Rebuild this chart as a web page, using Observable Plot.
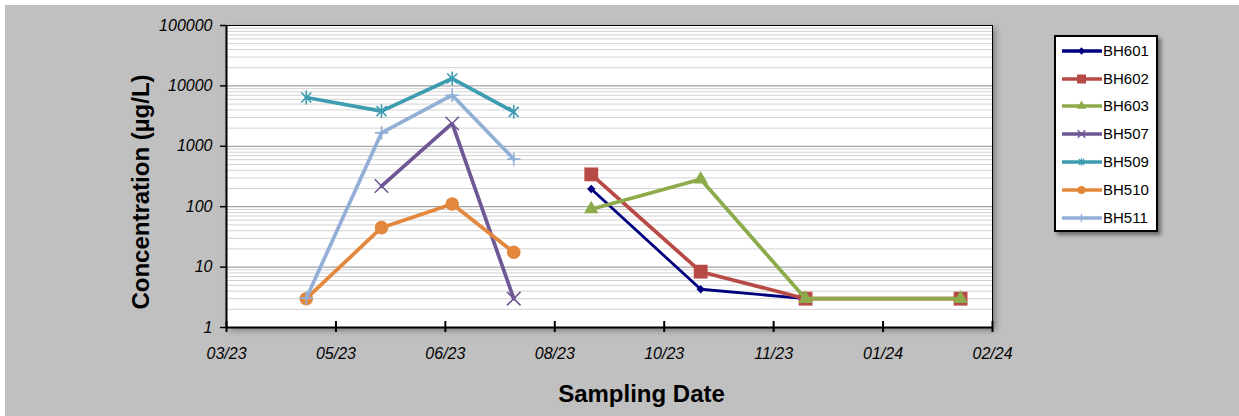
<!DOCTYPE html>
<html><head><meta charset="utf-8">
<script src="https://cdn.jsdelivr.net/npm/d3@7"></script>
<script src="https://cdn.jsdelivr.net/npm/@observablehq/plot@0.6"></script>
<style>
html,body{margin:0;padding:0;background:#fff;overflow:hidden;width:1239px;height:416px;}
#wrap{position:absolute;left:5px;top:5px;width:1234px;height:411px;background:#c0c0c0;font-family:"Liberation Sans",Arial,sans-serif;}
#chart{position:absolute;left:0;top:0;}
#legend{position:absolute;left:1049px;top:30px;width:100px;height:193px;background:#fff;border:2px solid #000;box-shadow:3px 3px 4px rgba(0,0,0,0.45);}
.row{position:absolute;left:0;width:100px;height:20px;}
.row svg{position:absolute;left:6px;top:0;}
.row span{position:absolute;left:47px;top:1px;font-size:15px;line-height:18px;color:#000;}
</style></head><body>
<div id="wrap"><div id="chart"></div><div id="legend"></div></div>
<script>
// ---- data ----
const seriesNames = ["BH601", "BH602", "BH603", "BH507", "BH509", "BH510", "BH511"];
const datesEarly = ["2023-04-29", "2023-06-01", "2023-07-02", "2023-07-29"];
const datesLate  = ["2023-09-01", "2023-10-19", "2023-12-04", "2024-02-10"];
const BH601 = [196, 4.3, 3, null];
const BH602 = [343, 8.4, 3, 3];
const BH603 = [91, 284, 3, 3];
const BH507 = [null, 220, 2390, 3];
const BH509 = [6430, 3820, 13250, 3720];
const BH510 = [3, 45, 111, 17.6];
const BH511 = [3.06, 1670, 7020, 614];
const yTicks = [1, 10, 100, 1000, 10000, 100000];
const xTickDates = ["2023-03-25", "2023-05-12", "2023-06-29", "2023-08-16", "2023-10-03", "2023-11-20", "2024-01-07", "2024-02-24"];
const xTickLabels = ["03/23", "05/23", "06/23", "08/23", "10/23", "11/23", "01/24", "02/24"];
const yTitle = "Concentration (µg/L)";
const xTitle = "Sampling Date";

// Excel-like "star" marker: vertical bar plus an X
const symbolStar = {
  draw(context, size) {
    const r = Math.sqrt(size) * 0.56;
    const q = r * 0.72;
    context.moveTo(0, -r); context.lineTo(0, r);
    context.moveTo(-q, -q); context.lineTo(q, q);
    context.moveTo(-q, q); context.lineTo(q, -q);
  }
};

// ---- styles ----
const styles = {
  BH601: {color: "#00007f", w: 2.8, symbol: "diamond2", r: 3.8, filled: true,  d3s: d3.symbolDiamond2, ls: 34},
  BH602: {color: "#b84a46", w: 3.7, symbol: "square",   r: 7.8, filled: true,  d3s: d3.symbolSquare, ls: 81},
  BH603: {color: "#8dab4b", w: 3.7, symbol: "triangle", r: 5.4, filled: true,  d3s: d3.symbolTriangle, ls: 40},
  BH507: {color: "#6f5795", w: 3.7, symbol: "times",    r: 6.2, filled: false, d3s: d3.symbolTimes, ls: 40},
  BH509: {color: "#3e9cb1", w: 3.7, symbol: symbolStar, r: 7.0, filled: false, d3s: symbolStar, ls: 45},
  BH510: {color: "#e3873c", w: 3.7, symbol: "circle",   r: 6.8, filled: true,  d3s: d3.symbolCircle, ls: 52},
  BH511: {color: "#93afd7", w: 3.7, symbol: "plus",     r: 4.4, filled: false, d3s: d3.symbolPlus, ls: 22}
};

const parse = d3.utcParse("%Y-%m-%d");
const valuesBySeries = {BH601, BH602, BH603, BH507, BH509, BH510, BH511};
const datesBySeries = {BH601: datesLate, BH602: datesLate, BH603: datesLate, BH507: datesEarly, BH509: datesEarly, BH510: datesEarly, BH511: datesEarly};
const rows = {};
for (const s of seriesNames) {
  rows[s] = valuesBySeries[s].map((v, i) => ({series: s, date: parse(datesBySeries[s][i]), value: v})).filter(d => d.value != null);
}

const minorTicks = [];
for (const dec of [1, 10, 100, 1000, 10000]) for (let k = 2; k <= 9; k++) minorTicks.push(dec * k);
const majorGrid = yTicks.slice(1, -1);
const xTicks = xTickDates.map(parse);
const xDomain = [xTicks[0], xTicks[xTicks.length - 1]];

const font = '"Liberation Sans", Arial, sans-serif';
const marks = [
  Plot.frame({fill: "white", stroke: "none"}),
  Plot.ruleY(minorTicks, {stroke: "#d2d2d2", strokeWidth: 1}),
  Plot.ruleY(majorGrid, {stroke: "#8e8e8e", strokeWidth: 1}),
  Plot.frame({stroke: "black", strokeWidth: 1})
];
for (const s of seriesNames) {
  const st = styles[s];
  marks.push(Plot.line(rows[s], {x: "date", y: "value", stroke: st.color, strokeWidth: st.w, strokeLinejoin: "miter"}));
  marks.push(Plot.dot(rows[s], {
    x: "date", y: "value", symbol: st.symbol, r: st.r,
    fill: st.filled ? st.color : "none",
    stroke: st.filled ? "none" : st.color,
    strokeWidth: st.filled ? 0 : 1.6
  }));
}
marks.push(
  Plot.ruleY([1], {stroke: "black", strokeWidth: 2}),
  Plot.ruleX([xDomain[0]], {stroke: "black", strokeWidth: 2}),
  Plot.axisY({ticks: yTicks, tickFormat: d => String(d), tickSize: 6, tickPadding: 8, fontSize: 16, fontStyle: "italic", fontFamily: font, fill: "black", stroke: "black", strokeWidth: 1.5, label: null}),
  Plot.axisX({ticks: xTicks, tickFormat: d => xTickLabels[xTicks.findIndex(t => +t === +d)], tickSize: 5, tickPadding: 15, fontSize: 16, fontStyle: "italic", fontFamily: font, fill: "black", stroke: "black", strokeWidth: 2, label: null}),
  Plot.ruleX(xTicks, {stroke: "black", strokeWidth: 2, insetTop: 296}),
  Plot.text([yTitle], {frameAnchor: "left", text: d => d, rotate: -90, dx: -78, dy: 15.5, textAnchor: "middle", lineAnchor: "bottom", fontSize: 24, fontWeight: "bold", fontFamily: font, fill: "black"}),
  Plot.text([xTitle], {frameAnchor: "bottom", text: d => d, dx: 32, dy: 74, textAnchor: "middle", lineAnchor: "bottom", fontSize: 24, fontWeight: "bold", fontFamily: font, fill: "black"})
);

const chart = Plot.plot({
  width: 1234,
  height: 411,
  marginLeft: 221,
  marginRight: 247,
  marginTop: 20,
  marginBottom: 89,
  style: {background: "transparent", fontFamily: font, color: "black", overflow: "visible"},
  x: {type: "utc", domain: xDomain},
  y: {type: "log", domain: [1, 100000]},
  marks
});
document.getElementById("chart").appendChild(chart);
// soft shadow behind plot area
d3.select(chart).select('[aria-label="frame"]').style("filter", "drop-shadow(3px 3px 3px rgba(0,0,0,0.35))");

// ---- legend ----
const legend = d3.select("#legend");
seriesNames.forEach((s, i) => {
  const st = styles[s];
  const row = legend.append("div").attr("class", "row").style("top", (3.7 + 27.8 * i) + "px");
  const svg = row.append("svg").attr("width", 40).attr("height", 20);
  svg.append("line").attr("x1", 0).attr("x2", 39).attr("y1", 10).attr("y2", 10)
    .attr("stroke", st.color).attr("stroke-width", 3.5).attr("stroke-linecap", "round");
  svg.append("path").attr("transform", "translate(19.5,10)")
    .attr("d", d3.symbol(st.d3s, st.ls)())
    .attr("fill", st.filled ? st.color : "none")
    .attr("stroke", st.filled ? "none" : st.color)
    .attr("stroke-width", st.filled ? 0 : 1.4);
  row.append("span").text(s);
});
</script>
</body></html>
